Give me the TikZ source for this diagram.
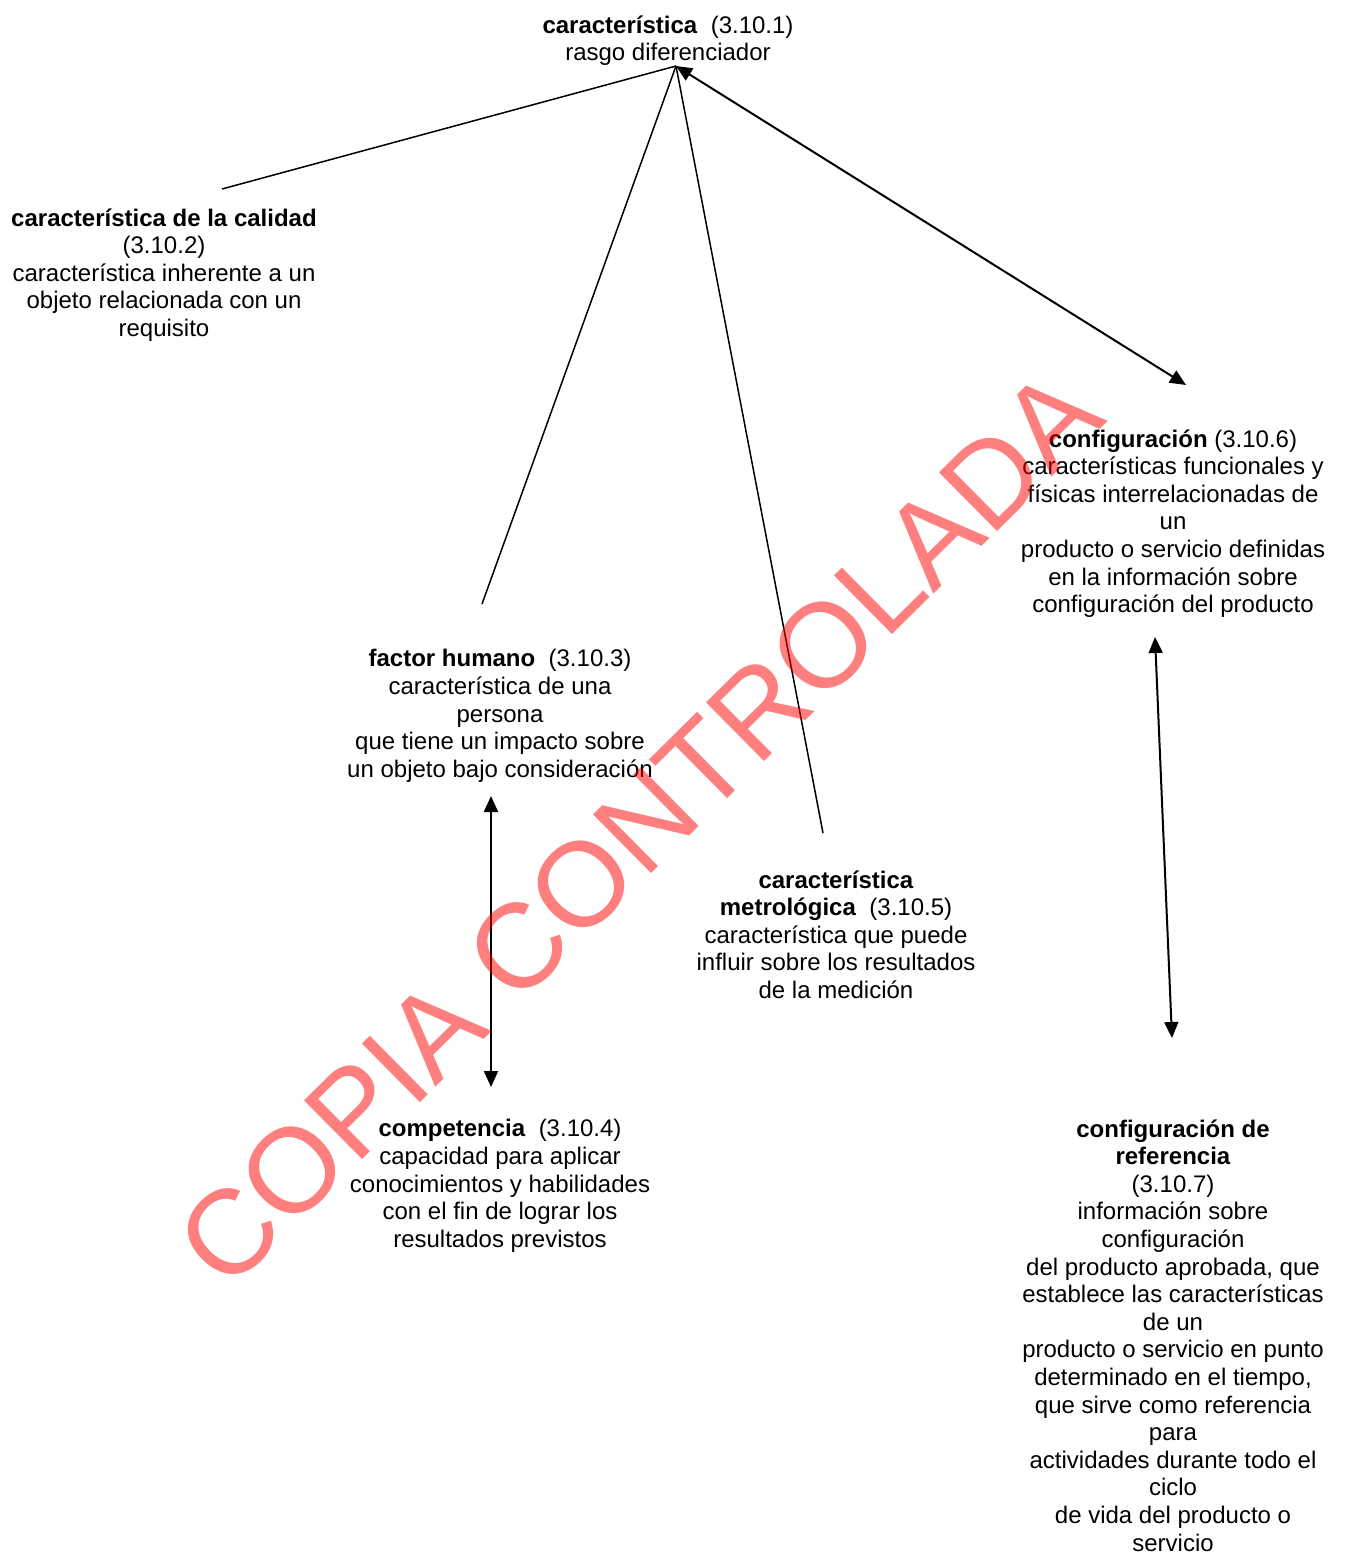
\documentclass[tikz,border=0pt]{standalone}
\usepackage{fontspec}
\setmainfont{Liberation Sans}
\usepackage{tikz}
\usetikzlibrary{arrows.meta}

\tikzset{
    term/.style={align=center, inner sep=0pt, anchor=north, font=\fontsize{12}{13.8}\selectfont},
    link/.style={line width=0.75pt},
    dlink/.style={line width=1pt, {Triangle[length=8pt,width=7pt]}-{Triangle[length=8pt,width=7pt]}},
    stamp/.style={rotate=44.7, anchor=base east, inner sep=0pt, text=red, text opacity=0.5, font=\fontsize{60}{72}\selectfont}
}

\begin{document}
\begin{tikzpicture}[x=0.5pt,y=-0.5pt]
    \useasboundingbox (0,0) rectangle (1344,1552);

    \node[term] (car) at (668,15) {\textbf{característica}\ \ (3.10.1)\\rasgo diferenciador};
    \node[term] (cal) at (164,208) {\textbf{característica de la calidad}\\(3.10.2)\\característica inherente a un\\objeto relacionada con un\\requisito};
    \node[term] (fac) at (500,649) {\textbf{factor humano}\ \ (3.10.3)\\característica de una\\persona\\que tiene un impacto sobre\\un objeto bajo consideración};
    \node[term] (com) at (500,1119) {\textbf{competencia}\ \ (3.10.4)\\capacidad para aplicar\\conocimientos y habilidades\\con el fin de lograr los\\resultados previstos};
    \node[term] (met) at (836,870) {\textbf{característica}\\\textbf{metrológica}\ \ (3.10.5)\\característica que puede\\influir sobre los resultados\\de la medición};
    \node[term] (cfg) at (1173,429) {\textbf{configuración} (3.10.6)\\características funcionales y\\físicas interrelacionadas de\\un\\producto o servicio definidas\\en la información sobre\\configuración del producto};
    \node[term] (ref) at (1173,1119) {\textbf{configuración de}\\\textbf{referencia}\\(3.10.7)\\información sobre\\configuración\\del producto aprobada, que\\establece las características\\de un\\producto o servicio en punto\\determinado en el tiempo,\\que sirve como referencia\\para\\actividades durante todo el\\ciclo\\de vida del producto o\\servicio};

    % ends of the connectors
    \coordinate (car-in) at (676,66);
    \coordinate (cal-in) at (222,189);
    \coordinate (fac-in) at (482,604);
    \coordinate (met-in) at (823,833);
    \coordinate (cfg-in) at (1186,385);
    \coordinate (fac-out) at (491,796);
    \coordinate (com-in) at (491,1087);
    \coordinate (cfg-out) at (1155,637);
    \coordinate (ref-in) at (1172,1038);

    \draw[link] (car-in) -- (cal-in);
    \draw[link] (car-in) -- (fac-in);
    \draw[link] (car-in) -- (met-in);
    \draw[dlink] (car-in) -- (cfg-in);
    \draw[dlink] (fac-out) -- (com-in);
    \draw[dlink] (cfg-out) -- (ref-in);

    \node[stamp] (copia) at (1109,421) {COPIA CONTROLADA};
\end{tikzpicture}
\end{document}
